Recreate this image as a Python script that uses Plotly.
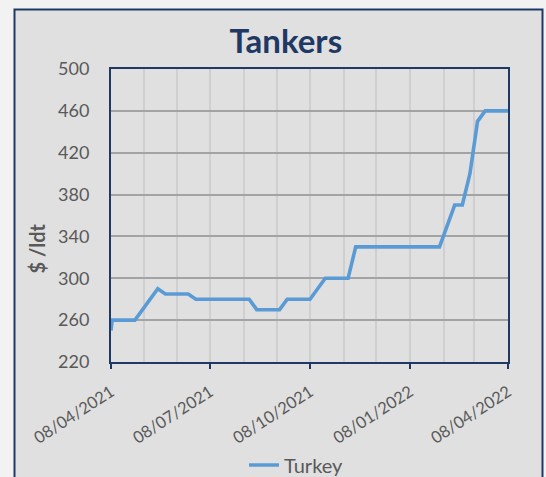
import plotly.graph_objects as go

# ---- data ----
dates = [
    "2021-04-08", "2021-04-09", "2021-04-30", "2021-05-21", "2021-05-28",
    "2021-06-18", "2021-06-25", "2021-08-13", "2021-08-20", "2021-09-10",
    "2021-09-17", "2021-10-08", "2021-10-22", "2021-11-12", "2021-11-19",
    "2022-02-04", "2022-02-18", "2022-02-25", "2022-03-04", "2022-03-11",
    "2022-03-18", "2022-04-08",
]
turkey = [
    250, 260, 260, 290, 285,
    285, 280, 280, 270, 270,
    280, 280, 300, 300, 330,
    330, 370, 370, 400, 450,
    460, 460,
]
tick_dates = ["2021-04-08", "2021-07-08", "2021-10-08", "2022-01-08", "2022-04-08"]
tick_labels = ["08/04/2021", "08/07/2021", "08/10/2021", "08/01/2022", "08/04/2022"]
y_ticks = [220, 260, 300, 340, 380, 420, 460, 500]

W, H = 546, 477
L, R, T, B = 111, 38, 69, 115
PW, PH = W - L - R, H - T - B

def px_x(p):
    return (p - L) / PW

def px_y(p):
    return (H - B - p) / PH

NAVY = "#1f3864"
GREY_TXT = "#595959"
FONT = "Lato, 'Open Sans', sans-serif"

fig = go.Figure()
fig.add_trace(go.Scatter(
    x=dates, y=turkey, mode="lines", name="Turkey",
    line=dict(color="#5b9bd5", width=3.6),
))

fig.update_layout(
    width=W, height=H,
    margin=dict(l=L, r=R, t=T, b=B, autoexpand=False),
    paper_bgcolor="#f2f2f2",
    plot_bgcolor="#e0e0e0",
    font=dict(family=FONT, color=GREY_TXT, size=18),
    title=dict(text="<b>Tankers</b>", x=285.8 / W, xanchor="center",
               y=1 - 41 / H, yanchor="middle",
               font=dict(family=FONT, size=33, color=NAVY)),
    showlegend=True,
    legend=dict(orientation="h", x=px_x(244), xanchor="left",
                y=px_y(465), yanchor="middle", bgcolor="rgba(0,0,0,0)",
                font=dict(size=20, color=GREY_TXT)),
    xaxis=dict(
        type="date", automargin=False,
        range=[tick_dates[0], tick_dates[-1]],
        tickmode="array", tickvals=tick_dates, ticktext=tick_labels,
        tickangle=-33,
        ticks="outside", ticklen=5, tickwidth=2, tickcolor=NAVY,
        ticklabelstandoff=7,
        showline=True, linecolor=NAVY, linewidth=2, mirror=True,
        showgrid=True, gridcolor="#cfcfcf", gridwidth=2,
        minor=dict(tick0="2021-04-08", dtick="M1", showgrid=True,
                   gridcolor="#cfcfcf", gridwidth=2, ticks=""),
        tickfont=dict(size=16.5, color=GREY_TXT),
        zeroline=False,
    ),
    yaxis=dict(
        automargin=False,
        range=[220, 500], tickmode="array", tickvals=y_ticks,
        showline=True, linecolor=NAVY, linewidth=2, mirror=True,
        showgrid=True, gridcolor="#a3a3a3", gridwidth=1.5,
        ticks="", ticklabelstandoff=16,
        tickfont=dict(size=18, color=GREY_TXT),
        zeroline=False,
    ),
    shapes=[dict(
        type="rect", xref="paper", yref="paper", layer="below",
        x0=px_x(14.5), x1=px_x(542.5), y0=px_y(490), y1=px_y(9.5),
        fillcolor="#e0e0e0", line=dict(color=NAVY, width=2),
    )],
    annotations=[dict(
        text="<b>$ /ldt</b>", xref="paper", yref="paper",
        x=px_x(36.5), y=px_y(249), xanchor="center", yanchor="middle",
        textangle=-90, showarrow=False,
        font=dict(family=FONT, size=20, color=GREY_TXT),
    )],
)

fig.write_html(
    "out.html",
    config={"displayModeBar": False},
    post_script="document.body.style.margin='0';document.body.style.background='#f2f2f2';",
)
